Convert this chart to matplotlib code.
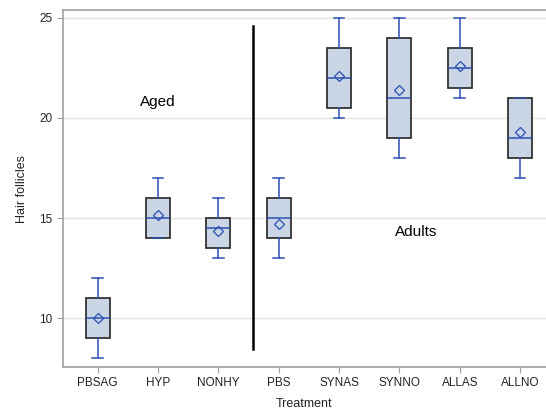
import matplotlib
matplotlib.use("Agg")
import matplotlib.pyplot as plt

plt.rcParams['font.family'] = ['Liberation Sans', 'DejaVu Sans']

groups = ["PBSAG", "HYP", "NONHY", "PBS", "SYNAS", "SYNNO", "ALLAS", "ALLNO"]
whislo = [8, 14, 13, 13, 20, 18, 21, 17]
q1 = [9, 14, 13.5, 14, 20.5, 19, 21.5, 18]
med = [10, 15, 14.5, 15, 22, 21, 22.5, 19]
q3 = [11, 16, 15, 16, 23.5, 24, 23.5, 21]
whishi = [12, 17, 16, 17, 25, 25, 25, 21]
means = [10, 15.17, 14.37, 14.7, 22.1, 21.4, 22.6, 19.3]

box_fill = "#cad5e6"
blue = "#2b4fb3"

fig = plt.figure(figsize=(5.46, 4.11), dpi=100)
ax = fig.add_axes([0.1154, 0.107, 0.8846, 0.8687])

stats = []
for i, g in enumerate(groups):
    stats.append(dict(label=g, whislo=whislo[i], q1=q1[i], med=med[i],
                      q3=q3[i], whishi=whishi[i], mean=means[i], fliers=[]))

ax.bxp(stats, positions=range(len(groups)), widths=0.4, patch_artist=True,
       showmeans=True, showfliers=False,
       boxprops=dict(facecolor=box_fill, edgecolor="#333333", linewidth=1.3),
       whiskerprops=dict(color=blue, linewidth=1.1),
       capprops=dict(color=blue, linewidth=1.1),
       medianprops=dict(color=blue, linewidth=1.1),
       meanprops=dict(marker="D", markerfacecolor="none", markeredgecolor=blue,
                      markersize=5, markeredgewidth=0.9),
       capwidths=0.175, zorder=3)

# separator between aged and adult groups
ax.plot([2.57, 2.57], [8.45, 24.6], color="black", linewidth=1.8, zorder=4)
ax.text(1, 20.8, "Aged", ha="center", va="center", fontsize=11)
ax.text(5.27, 14.3, "Adults", ha="center", va="center", fontsize=11)

ax.set_xlim(-0.575, 7.43)
ax.set_ylim(7.55, 25.4)
ax.set_yticks([10, 15, 20, 25])
ax.set_xticks(range(len(groups)))
ax.set_xticklabels(groups)
ax.yaxis.grid(True, color="#e3e3e3", linewidth=1, zorder=0)
ax.set_axisbelow(True)
for s in ["left", "bottom", "top"]:
    ax.spines[s].set_color("#a0a0a0")
    ax.spines[s].set_linewidth(1.2)
ax.spines["right"].set_visible(False)
ax.tick_params(colors="#a0a0a0", labelcolor="#222222", labelsize=8.5, length=4)
ax.set_xlabel("Treatment", fontsize=9, color="#222222", labelpad=6)
ax.set_ylabel("Hair follicles", fontsize=9, color="#222222", labelpad=8)

fig.savefig("out.png", dpi=100)
